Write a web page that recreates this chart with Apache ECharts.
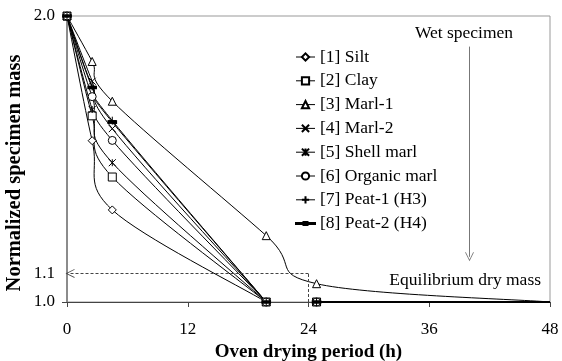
<!DOCTYPE html>
<html>
<head>
<meta charset="utf-8">
<script src="https://cdn.jsdelivr.net/npm/echarts@6/dist/echarts.min.js"></script>
<style>
  html, body { margin: 0; padding: 0; background: #fff; }
  #chart { width: 562px; height: 361px; }
</style>
</head>
<body>
<div id="chart"></div>
<script>
// oven drying period (h) for each reading
var hours = [0, 2.5, 4.5, 19.8, 24.8, 48];

// normalized specimen mass, one array per soil
var silt = [2.0, 1.564, 1.322, 1.0, 1.0, 1.0];
var clay = [2.0, 1.651, 1.437, 1.0, 1.0, 1.0];
var marl1 = [2.0, 1.841, 1.702, 1.232, 1.064, 1.0];
var marl2 = [2.0, 1.772, 1.606, 1.0, 1.0, 1.0];
var shellMarl = [2.0, 1.673, 1.487, 1.0, 1.0, 1.0];
var organicMarl = [2.0, 1.718, 1.565, 1.0, 1.0, 1.0];
var peat1 = [2.0, 1.754, 1.634, 1.0, 1.0, 1.0];
var peat2 = [2.0, 1.750, 1.629, 1.0, 1.0, 1.0];

var seriesNames = ['[1] Silt', '[2] Clay', '[3] Marl-1', '[4] Marl-2',
  '[5] Shell marl', '[6] Organic marl', '[7] Peat-1 (H3)', '[8] Peat-2 (H4)'];
var seriesValues = [silt, clay, marl1, marl2, shellMarl, organicMarl, peat1, peat2];
// the line is not drawn between the 20 h and 25 h readings
var brokenAfterDry = [true, true, false, true, true, true, true, true];

var xTicks = [0, 12, 24, 36, 48];
var yLabels = [1.0, 1.1, 2.0];
var yTicks = [1.0, 2.0];

// annotation guides
var dryLineX = 24;
var dryLineY = 1.1;
var wetArrowX = 40;
var wetArrowTop = 1.893;
var wetArrowBottom = 1.158;

var FONT = '"Liberation Serif", "Times New Roman", serif';
var chevron = 'path://M5,0 L10,10 L9,10 L5,2 L1,10 L0,10 Z';

var markers = [
  {symbol: 'diamond', size: 8, fill: '#fff'},
  {symbol: 'rect', size: 8, fill: '#fff'},
  {symbol: 'triangle', size: 8, fill: '#fff'},
  {symbol: 'path://M0,0 L10,10 M10,0 L0,10', size: 7, fill: '#fff'},
  {symbol: 'path://M0,0 L10,10 M10,0 L0,10 M5,0 L5,10', size: 7, fill: '#fff'},
  {symbol: 'circle', size: 8, fill: '#fff'},
  {symbol: 'path://M5,0 L5,10 M0,5 L10,5', size: 8, fill: '#fff'},
  {symbol: 'rect', size: [8, 3], fill: '#000'}
];

// spreadsheet style smoothing: bezier handles are 1/6 of the neighbour chord
var smoothPath = function (pts) {
  var d = 'M' + pts[0][0] + ',' + pts[0][1];
  for (var i = 0; i < pts.length - 1; i++) {
    var p0 = pts[i > 0 ? i - 1 : i];
    var p1 = pts[i];
    var p2 = pts[i + 1];
    var p3 = pts[i + 2 < pts.length ? i + 2 : i + 1];
    var c1x = p1[0] + (p2[0] - p0[0]) / 6;
    var c1y = p1[1] + (p2[1] - p0[1]) / 6;
    var c2x = p2[0] - (p3[0] - p1[0]) / 6;
    var c2y = p2[1] - (p3[1] - p1[1]) / 6;
    d += ' C' + c1x + ',' + c1y + ' ' + c2x + ',' + c2y + ' ' + p2[0] + ',' + p2[1];
  }
  return d;
};

var curveSeries = function (values, broken) {
  return {
    type: 'custom',
    silent: true,
    clip: false,
    z: 2,
    data: hours.map(function (h, i) { return [h, values[i]]; }),
    renderItem: function (params, api) {
      if (params.dataIndex !== 0) {
        return null;
      }
      var runs = broken ? [[0, 1, 2, 3], [4, 5]] : [[0, 1, 2, 3, 4, 5]];
      var children = runs.map(function (run) {
        var pts = run.map(function (i) { return api.coord([hours[i], values[i]]); });
        return {
          type: 'path',
          shape: {pathData: smoothPath(pts)},
          style: {fill: null, stroke: '#000', lineWidth: 1}
        };
      });
      return {type: 'group', children: children};
    }
  };
};

var series = [];
for (var s = 0; s < seriesNames.length; s++) {
  series.push(curveSeries(seriesValues[s], brokenAfterDry[s]));
  series.push({
    name: seriesNames[s],
    type: 'line',
    data: hours.slice(0, hours.length - 1).map(function (h, i) { return [h, seriesValues[s][i]]; }),
    symbol: markers[s].symbol,
    symbolSize: markers[s].size,
    showAllSymbol: true,
    lineStyle: {color: '#000', width: 1, opacity: 0},
    itemStyle: {color: markers[s].fill, borderColor: '#000', borderWidth: 1},
    emphasis: {disabled: true},
    z: 3
  });
}

// dashed guide at 1.1 and the "wet specimen" arrow
series.push({
  name: 'guides',
  type: 'line',
  data: [],
  silent: true,
  markLine: {
    silent: true,
    animation: false,
    label: {show: false},
    emphasis: {disabled: true},
    data: [
      [
        {coord: [dryLineX, 1.0], symbol: 'none', lineStyle: {color: '#444', type: [3, 2], width: 1}},
        {coord: [dryLineX, dryLineY], symbol: 'none'}
      ],
      [
        {coord: [dryLineX, dryLineY], symbol: 'none', lineStyle: {color: '#444', type: [3, 2], width: 1}},
        {coord: [0.3, dryLineY], symbol: chevron, symbolSize: [9, 9]}
      ],
      [
        {coord: [wetArrowX, wetArrowTop], symbol: 'none', lineStyle: {color: '#777', type: 'solid', width: 1}},
        {coord: [wetArrowX, wetArrowBottom], symbol: chevron, symbolSize: [9, 9]}
      ]
    ]
  }
});

// legend icon for [8]: thin line with a short filled bar (degenerate corner points fix the box)
var peat2Icon = 'path://M0,0 L0,0 M19,9 L19,9 ' +
  'M0,4 L19,4 L19,5 L0,5 Z M7.5,3 L11.5,3 L11.5,6 L7.5,6 Z';
var legendData = seriesNames.map(function (n, i) {
  if (i === 7) {
    return {name: n, icon: peat2Icon};
  }
  return {name: n};
});

var chart = echarts.init(document.getElementById('chart'), null, {renderer: 'canvas'});
chart.setOption({
  animation: false,
  backgroundColor: '#fff',
  textStyle: {fontFamily: FONT, color: '#000'},
  grid: {
    left: 67, right: 12, top: 16, bottom: 59,
    show: true, borderColor: '#999', borderWidth: 1,
    outerBoundsMode: 'none'
  },
  legend: {
    data: legendData,
    orient: 'vertical',
    left: 295,
    top: 48,
    padding: 0,
    itemWidth: 19,
    itemHeight: 9,
    itemGap: 5.8,
    itemTextGap: 6,
    selectedMode: false,
    lineStyle: {color: '#000', width: 1, opacity: 1},
    textStyle: {fontFamily: FONT, fontSize: 17.5, color: '#000', lineHeight: 17}
  },
  xAxis: {
    type: 'value',
    min: 0, max: 48, interval: 12,
    name: 'Oven drying period (h)',
    nameLocation: 'middle',
    nameGap: 33,
    nameTextStyle: {fontFamily: FONT, fontSize: 19, fontWeight: 'bold', color: '#000'},
    axisLine: {show: true, lineStyle: {color: '#444', width: 1}},
    axisTick: {show: true, inside: false, length: 5, lineStyle: {color: '#444'}, customValues: xTicks},
    axisLabel: {fontFamily: FONT, fontSize: 17, color: '#000', margin: 19, customValues: xTicks},
    splitLine: {show: false}
  },
  yAxis: {
    type: 'value',
    min: 1.0, max: 2.0,
    axisLine: {show: true, lineStyle: {color: '#777', width: 1.5}},
    axisTick: {show: true, inside: false, length: 5, lineStyle: {color: '#444'}, customValues: yTicks},
    axisLabel: {
      fontFamily: FONT, fontSize: 17, color: '#000', margin: 12,
      customValues: yLabels,
      formatter: function (v) { return v.toFixed(1); }
    },
    splitLine: {show: false}
  },
  graphic: [
    {type: 'text', x: 15, y: 173, rotation: Math.PI / 2, silent: true,
      style: {text: 'Normalized specimen mass', font: 'bold 20.5px ' + FONT, fill: '#000',
        textAlign: 'center', textVerticalAlign: 'middle'}},
    {type: 'text', x: 464, y: 33, silent: true,
      style: {text: 'Wet specimen', font: '17.5px ' + FONT, fill: '#000', textAlign: 'center', textVerticalAlign: 'middle'}},
    {type: 'text', x: 541, y: 280, silent: true,
      style: {text: 'Equilibrium dry mass', font: '17.5px ' + FONT, fill: '#000', textAlign: 'right', textVerticalAlign: 'middle'}}
  ],
  series: series
});
</script>
</body>
</html>
